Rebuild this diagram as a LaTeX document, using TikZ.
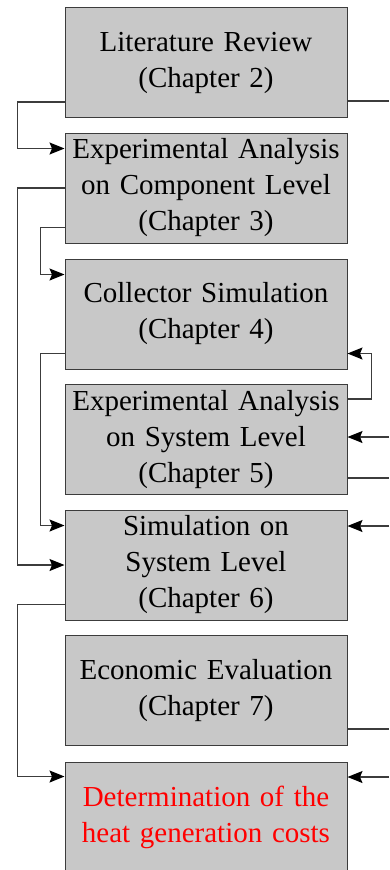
\documentclass[tikz,border=0pt]{standalone}
\usepackage{fontspec}
\setmainfont{Liberation Serif}
\usetikzlibrary{arrows.meta,calc}
\definecolor{boxgray}{RGB}{200,200,200}
\definecolor{linegray}{RGB}{60,60,60}
\tikzset{
  chapter/.style={draw=linegray,line width=1pt,fill=boxgray,minimum width=282pt,minimum height=110pt,
    text width=276pt,align=center,inner sep=0pt,font=\fontsize{29}{36}\selectfont},
  flow/.style={draw=linegray,line width=1.2pt,-{Stealth[length=15pt,width=12pt,inset=2.5pt,color=black]}},
  plain/.style={draw=linegray,line width=1.2pt}
}
\begin{document}
\begin{tikzpicture}[x=1pt,y=-1pt]
\useasboundingbox(0,0)rectangle(389,870);
%chapters
\node[chapter](lit)at(206,62.5){Literature Review\\(Chapter 2)};
\node[chapter](comp)at(206,188){Experimental Analysis\\on Component Level\\(Chapter 3)};
\node[chapter](coll)at(206,314){Collector Simulation\\(Chapter 4)};
\node[chapter](sys)at(206,439.5){Experimental Analysis\\on System Level\\(Chapter 5)};
\node[chapter](sim)at(206,565){Simulation on\\System Level\\(Chapter 6)};
\node[chapter](eco)at(206,690.5){Economic Evaluation\\(Chapter 7)};
\node[chapter,text=red](cost)at(206,817){Determination of the\\heat generation costs};
%free ends at the right edge
\coordinate(r1)at(389,101);
\coordinate(r2)at(389,437);
\coordinate(r3)at(389,478);
\coordinate(r4)at(389,526);
\coordinate(r5)at(389,729);
\coordinate(r6)at(389,777);
%left connectors
\draw[flow]($(lit.south west)+(0,-16)$)--++(-47,0)|-($(comp.north west)+(0,16)$);
\draw[flow](comp.west)--++(-47,0)|-(sim.west);
\draw[flow]($(comp.south west)+(0,-16)$)--++(-24,0)|-($(coll.north west)+(0,16)$);
\draw[flow]($(coll.south west)+(0,-16)$)--++(-24,0)|-($(sim.north west)+(0,16)$);
\draw[flow]($(sim.south west)+(0,-16)$)--++(-47,0)|-($(cost.north west)+(0,15)$);
%right connectors
\draw[plain](r1-|lit.east)--(r1);
\draw[flow]($(sys.north east)+(0,15)$)--++(24,0)|-($(coll.south east)+(0,-16)$);
\draw[flow](r2)--(r2-|sys.east);
\draw[plain](r3-|sys.east)--(r3);
\draw[flow](r4)--(r4-|sim.east);
\draw[plain](r5-|eco.east)--(r5);
\draw[flow](r6)--(r6-|cost.east);
\end{tikzpicture}
\end{document}
